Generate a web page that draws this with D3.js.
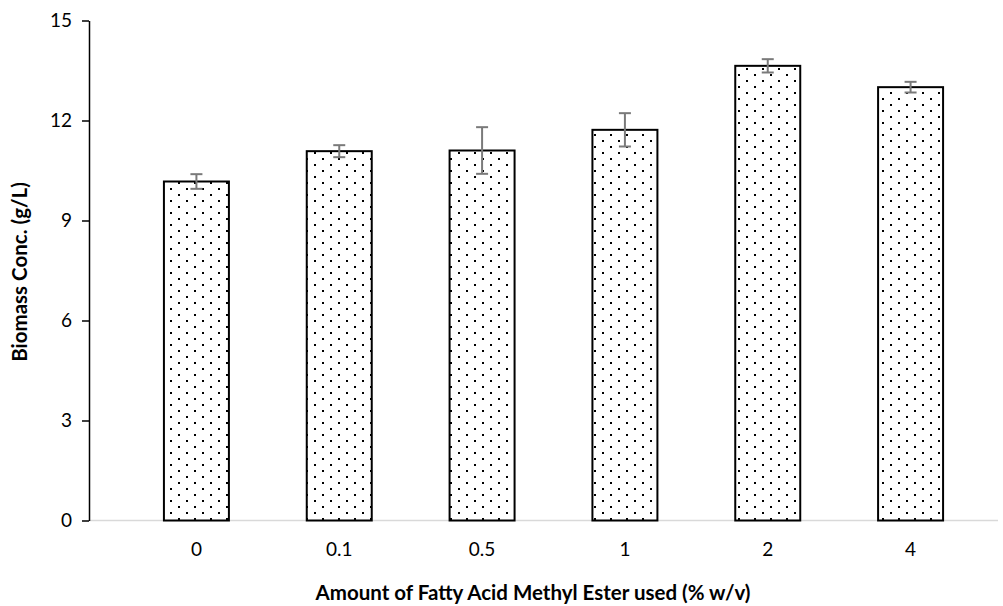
<!DOCTYPE html>
<html>
<head>
<meta charset="utf-8">
<script src="https://cdn.jsdelivr.net/npm/d3@7"></script>
<style>
  html, body { margin: 0; padding: 0; background: #fff; }
  svg { display: block; font-family: Lato, "Open Sans", sans-serif; }
</style>
</head>
<body>
<svg id="chart" width="1003" height="606"></svg>
<script>
// FAME dosage (% w/v) and resulting biomass concentration (g/L)
const categories = ["0", "0.1", "0.5", "1", "2", "4"];
const biomass = [10.17, 11.08, 11.1, 11.72, 13.64, 13.0];
const errors = [0.22, 0.18, 0.7, 0.5, 0.2, 0.16];
const yTicks = [0, 3, 6, 9, 12, 15];

const svg = d3.select("#chart");

const axisX0 = 89;
const x = d3.scaleBand()
  .domain(categories)
  .range([125, 982])
  .paddingInner(0.545)
  .paddingOuter(0.2725);

const y = d3.scaleLinear().domain([0, 15]).range([520.5, 20.5]);

// dotted fill pattern for the bars
const defs = svg.append("defs");
const pat = defs.append("pattern")
  .attr("id", "dots")
  .attr("patternUnits", "userSpaceOnUse")
  .attr("width", 16).attr("height", 12);
pat.append("rect").attr("width", 16).attr("height", 12).attr("fill", "#fff");
pat.append("rect").attr("x", 2).attr("y", 2).attr("width", 2).attr("height", 2).attr("fill", "#000");
pat.append("rect").attr("x", 10).attr("y", 8).attr("width", 2).attr("height", 2).attr("fill", "#000");

// category axis baseline
svg.append("line")
  .attr("x1", axisX0).attr("x2", 998)
  .attr("y1", y(0)).attr("y2", y(0))
  .attr("stroke", "#d9d9d9").attr("stroke-width", 1.5);

// bars
svg.append("g").selectAll("rect")
  .data(biomass)
  .join("rect")
  .attr("x", (d, i) => x(categories[i]))
  .attr("y", d => y(d))
  .attr("width", x.bandwidth())
  .attr("height", d => y(0) - y(d))
  .attr("fill", "url(#dots)")
  .attr("stroke", "#000")
  .attr("stroke-width", 2);

// error bars
const eg = svg.append("g").attr("stroke", "#7a7a7a").attr("stroke-width", 2);
biomass.forEach((v, i) => {
  const cx = x(categories[i]) + x.bandwidth() / 2;
  eg.append("line").attr("x1", cx).attr("x2", cx).attr("y1", y(v + errors[i])).attr("y2", y(v - errors[i]));
  eg.append("line").attr("x1", cx - 6).attr("x2", cx + 6).attr("y1", y(v + errors[i])).attr("y2", y(v + errors[i]));
  eg.append("line").attr("x1", cx - 6).attr("x2", cx + 6).attr("y1", y(v - errors[i])).attr("y2", y(v - errors[i]));
});

// value axis
const yAxis = svg.append("g")
  .attr("transform", `translate(${axisX0},0)`)
  .call(d3.axisLeft(y).tickValues(yTicks).tickSize(7).tickSizeOuter(0).tickPadding(10));
yAxis.select(".domain").attr("stroke", "#000").attr("stroke-width", 1.5);
yAxis.selectAll(".tick line").attr("stroke", "#000").attr("stroke-width", 1.5);
yAxis.selectAll("text").attr("font-size", 19).attr("fill", "#000")
  .style("font-family", "Lato, 'Open Sans', sans-serif");

// category labels
svg.append("g").selectAll("text")
  .data(categories)
  .join("text")
  .attr("x", d => x(d) + x.bandwidth() / 2)
  .attr("y", 556)
  .attr("text-anchor", "middle")
  .attr("font-size", 19)
  .attr("fill", "#000")
  .text(d => d);

// axis titles
svg.append("text")
  .attr("x", 533).attr("y", 600)
  .attr("text-anchor", "middle")
  .attr("font-size", 20.5).attr("font-weight", "bold")
  .text("Amount of Fatty Acid Methyl Ester used (% w/v)");

svg.append("text")
  .attr("transform", "translate(27,272) rotate(-90)")
  .attr("text-anchor", "middle")
  .attr("font-size", 20.5).attr("font-weight", "bold")
  .text("Biomass Conc. (g/L)");
</script>
</body>
</html>
